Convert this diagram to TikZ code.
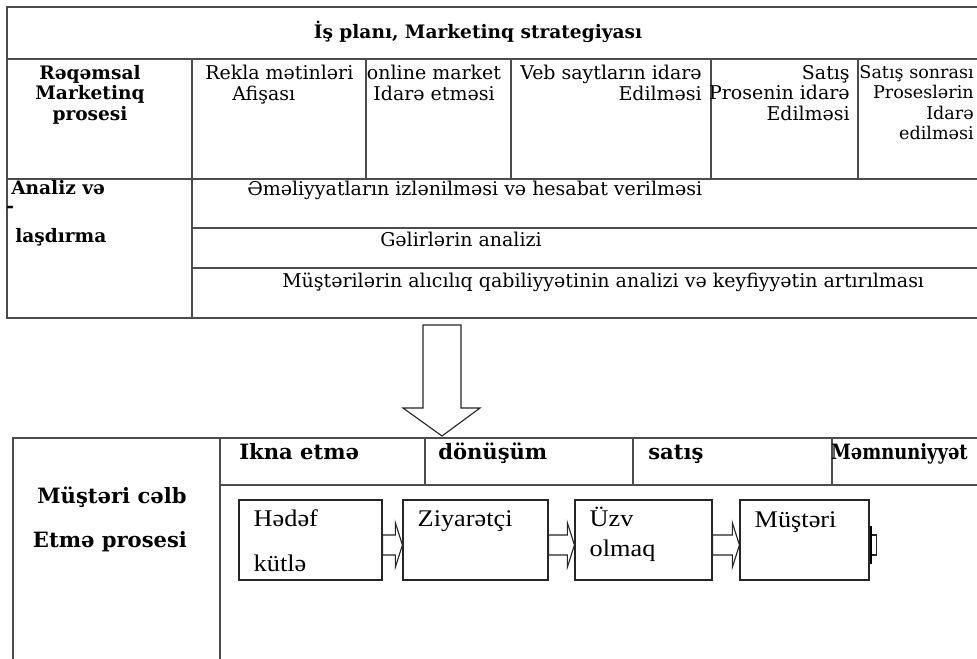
\documentclass[tikz,border=0pt]{standalone}
\usepackage{fontspec}
\setmainfont{DejaVu Serif}
\newfontfamily\boxfont[FakeStretch=1.1]{Liberation Serif}
\usetikzlibrary{positioning}

\tikzset{
    grid/.style={draw=black!70, line width=0.8pt},
    cell/.style={inner sep=0pt, font=\fontsize{13.5}{14.6}\selectfont},
    headcell/.style={cell, font=\bfseries\fontsize{13.2}{14.6}\selectfont},
    phasecell/.style={inner sep=0pt, font=\bfseries\fontsize{15}{17}\selectfont},
    stepbox/.style={draw=black!85, line width=0.8pt, fill=white, minimum height=20mm, inner sep=0pt},
    boxtext/.style={inner sep=0pt, anchor=base west, font=\boxfont\fontsize{17}{19}\selectfont},
    arrowline/.style={draw=black!85, line width=0.8pt, fill=white}
}

\begin{document}
\begin{tikzpicture}[x=0.025cm, y=-0.025cm]
    \useasboundingbox (0,0) rectangle (977,658);

    % upper table
    \draw[grid] (985,7) -- (7,7) -- (7,318) -- (985,318);
    \draw[grid] (7,59) -- (985,59);
    \draw[grid] (7,179) -- (985,179);
    \draw[grid] (192,59) -- (192,318);
    \draw[grid] (192,228) -- (985,228);
    \draw[grid] (192,268) -- (985,268);
    \foreach \x in {366,511,711,858}
        \draw[grid] (\x,59) -- (\x,179);

    \node[headcell, anchor=base] (plan) at (478,38) {İş planı, Marketinq strategiyası};

    \node[headcell, anchor=north, align=center] (reqemsal) at (90,65) {Rəqəmsal\\Marketinq\\prosesi};
    \node[cell, anchor=north west, align=left] (rekla) at (205,65) {Rekla mətinləri\\\hspace*{6.75mm}Afişası};
    \node[cell, anchor=north, align=center] (online) at (434,65) {online market\\Idarə etməsi};
    \node[cell, anchor=north east, align=right] (veb) at (702,65) {Veb saytların idarə\\Edilməsi};
    \node[cell, anchor=north east, align=right] (satis) at (850,65) {Satış\\Prosenin idarə\\Edilməsi};
    \node[cell, anchor=north east, align=right, font=\fontsize{12.5}{14.6}\selectfont] (sonra) at (974,65) {Satış sonrası\\Proseslərin\\Idarə\\edilməsi};

    \node[headcell, anchor=base west] (analiz) at (11,194) {Analiz və};
    \node[headcell, anchor=base west] (tire) at (6,212) {-};
    \node[headcell, anchor=base west] (lasdirma) at (15,242) {laşdırma};

    \node[cell, anchor=base west] (izleme) at (247,195) {Əməliyyatların izlənilməsi və hesabat verilməsi};
    \node[cell, anchor=base west] (gelir) at (380,246) {Gəlirlərin analizi};
    \node[cell, anchor=base west] (alicilik) at (282,287) {Müştərilərin alıcılıq qabiliyyətinin analizi və keyfiyyətin artırılması};

    % big arrow
    \draw[arrowline] (423,325) -- (461,325) -- (461,408) -- (480,408) -- (442,436)
        -- (403,408) -- (423,408) -- cycle;

    % lower table
    \draw[grid] (13,665) -- (13,438) -- (985,438);
    \draw[grid] (220,438) -- (220,665);
    \draw[grid] (220,485) -- (985,485);
    \foreach \x in {425,633,832}
        \draw[grid] (\x,438) -- (\x,485);

    \node[phasecell, anchor=base west] (ikna) at (239,459) {Ikna etmə};
    \node[phasecell, anchor=base west] (donusum) at (438,459) {dönüşüm};
    \node[phasecell, anchor=base west] (satisH) at (648,459) {satış};
    \node[phasecell, anchor=base east] (memnun) at (968,459) {\scalebox{0.85}[1]{Məmnuniyyət}};

    \node[phasecell, anchor=base] (celb) at (112,503) {Müştəri cəlb};
    \node[phasecell, anchor=base] (etme) at (110,547) {Etmə prosesi};

    \node[stepbox, minimum width=35.75mm] (hedef) at (310.5,540) {};
    \node[stepbox, minimum width=36.25mm] (ziyaretci) at (475.5,540) {};
    \node[stepbox, minimum width=34.25mm] (uzv) at (643.5,540) {};
    \node[stepbox, minimum width=32.25mm] (mushteri) at (804.5,540) {};

    \node[boxtext] (hedefA) at ([shift={(15,27)}]hedef.north west) {Hədəf};
    \node[boxtext] (hedefB) at ([shift={(15,72)}]hedef.north west) {kütlə};
    \node[boxtext] (ziyaretciA) at ([shift={(15,27)}]ziyaretci.north west) {Ziyarətçi};
    \node[boxtext] (uzvA) at ([shift={(15,27)}]uzv.north west) {Üzv};
    \node[boxtext] (uzvB) at ([shift={(15,57)}]uzv.north west) {olmaq};
    \node[boxtext] (mushteriA) at ([shift={(15,28)}]mushteri.north west) {Müştəri};

    \foreach \a/\b in {hedef/ziyaretci, ziyaretci/uzv, uzv/mushteri}
        \draw[arrowline] ([shift={(0,-5)}]\a.east) -- ([shift={(-7,-5)}]\b.west)
            -- ([shift={(-7,-17)}]\b.west) -- ([shift={(0,5)}]\b.west)
            -- ([shift={(-7,27)}]\b.west) -- ([shift={(-7,15)}]\b.west)
            -- ([shift={(0,15)}]\a.east) -- cycle;

    % cut-off arrow after the last box
    \draw[arrowline] ([shift={(0,-5)}]mushteri.east) rectangle ([shift={(7,15)}]mushteri.east);
    \draw[line width=1.5pt] ([shift={(1,-14)}]mushteri.east) -- ([shift={(1,24)}]mushteri.east);

\end{tikzpicture}
\end{document}
